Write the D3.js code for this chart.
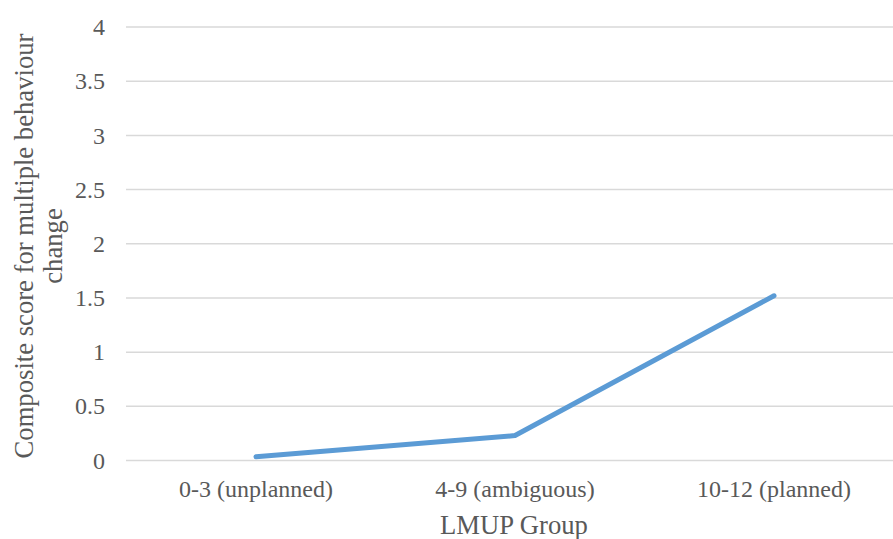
<!DOCTYPE html>
<html><head><meta charset="utf-8">
<script src="https://cdn.jsdelivr.net/npm/d3@7"></script>
<style>body{margin:0;background:#fff}svg{display:block}</style>
</head><body><svg id="c" width="893" height="539" font-family="Liberation Serif"></svg>
<script>
const categories = ["0-3 (unplanned)", "4-9 (ambiguous)", "10-12 (planned)"];
const values = [0.035, 0.23, 1.52];
const yTicks = [0, 0.5, 1, 1.5, 2, 2.5, 3, 3.5, 4];
const xTitle = "LMUP Group";
const yTitle = ["Composite score for multiple behaviour", "change"];

const TXT = "#595959";
const svg = d3.select("#c");
const x = d3.scalePoint().domain(categories).range([126.5, 903.5]).padding(0.5);
const y = d3.scaleLinear().domain([0, 4]).range([460.5, 27]);

svg.append("g").selectAll("line").data(yTicks).join("line")
  .attr("x1", 126).attr("x2", 893)
  .attr("y1", d => y(d)).attr("y2", d => y(d))
  .attr("stroke", "#d9d9d9").attr("stroke-width", 1.5);

svg.append("g").selectAll("text").data(yTicks).join("text")
  .attr("x", 105).attr("y", d => y(d)).attr("dy", "0.34em")
  .attr("text-anchor", "end")
  .attr("font-family", "Liberation Serif").attr("font-size", 24).attr("fill", TXT)
  .text(d => d);

svg.append("g").selectAll("text").data(categories).join("text")
  .attr("x", d => x(d)).attr("y", 497)
  .attr("text-anchor", "middle")
  .attr("font-family", "Liberation Serif").attr("font-size", 24).attr("fill", TXT)
  .text(d => d);

svg.append("text").attr("x", 514).attr("y", 534).attr("text-anchor", "middle")
  .attr("font-family", "Liberation Serif").attr("font-size", 26.67).attr("fill", TXT)
  .text(xTitle);

const yt = svg.append("text").attr("transform", "translate(0,246) rotate(-90)")
  .attr("text-anchor", "middle")
  .attr("font-family", "Liberation Serif").attr("font-size", 26.67).attr("fill", TXT);
yt.selectAll("tspan").data(yTitle).join("tspan")
  .attr("x", 0).attr("y", (d, i) => 33 + i * 29).text(d => d);

svg.append("path").datum(values)
  .attr("d", d3.line().x((d, i) => x(categories[i])).y(d => y(d)))
  .attr("fill", "none").attr("stroke", "#5B9BD5").attr("stroke-width", 5)
  .attr("stroke-linecap", "round").attr("stroke-linejoin", "round");
</script></body></html>
